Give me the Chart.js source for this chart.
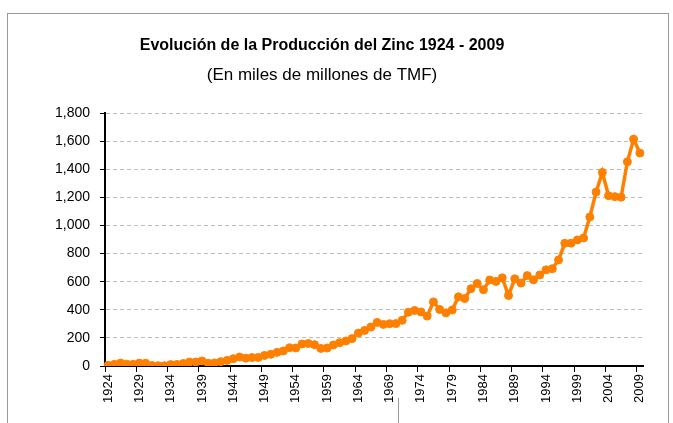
<!DOCTYPE html>
<html><head><meta charset="utf-8">
<script src="https://cdn.jsdelivr.net/npm/chart.js@4.4.0/dist/chart.umd.min.js"></script>
<style>
html,body{margin:0;padding:0;background:#fff;}
#wrap{position:relative;width:673px;height:423px;overflow:hidden;background:#fff;}
#frame{position:absolute;left:7px;top:13px;width:662px;height:440px;border:1px solid #9a9a9a;box-sizing:border-box;}
#mark{position:absolute;left:398px;top:398px;width:1px;height:25px;background:#9a9a9a;}
canvas{position:absolute;left:0;top:0;}
</style></head>
<body>
<div id="wrap"><div id="frame"></div><div id="mark"></div><canvas id="c" width="673" height="423"></canvas></div>
<script>
const years = ['1924','1925','1926','1927','1928','1929','1930','1931','1932','1933',
  '1934','1935','1936','1937','1938','1939','1940','1941','1942','1943',
  '1944','1945','1946','1947','1948','1949','1950','1951','1952','1953',
  '1954','1955','1956','1957','1958','1959','1960','1961','1962','1963',
  '1964','1965','1966','1967','1968','1969','1970','1971','1972','1973',
  '1974','1975','1976','1977','1978','1979','1980','1981','1982','1983',
  '1984','1985','1986','1987','1988','1989','1990','1991','1992','1993',
  '1994','1995','1996','1997','1998','1999','2000','2001','2002','2003',
  '2004','2005','2006','2007','2008','2009'];
const produccion = [5,12,21,13,12,21,20,4,2,2,
  10,11,18,28,28,36,20,22,31,40,
  52,64,56,60,61,75,83,97,107,130,
  128,157,160,152,125,128,150,166,178,195,
  234,253,277,310,296,301,302,325,383,395,
  385,355,456,402,378,398,492,480,550,587,
  543,612,602,627,502,620,590,643,613,648,
  684,692,755,873,874,897,911,1060,1238,1377,
  1212,1205,1201,1453,1614,1515];
const xTickLabels = ['1924','1929','1934','1939','1944','1949','1954','1959','1964','1969',
  '1974','1979','1984','1989','1994','1999','2004','2009'];
const yTickLabels = ['0','200','400','600','800','1,000','1,200','1,400','1,600','1,800'];
const titleText = 'Evolución de la Producción del Zinc 1924 - 2009';
const subtitleText = '(En miles de millones de TMF)';

const FONT = '"Liberation Sans", Arial, sans-serif';

const titlePlugin = {
  id: 'titles',
  afterDraw(chart) {
    const c = chart.ctx;
    c.save();
    c.fillStyle = '#000';
    c.textAlign = 'center';
    c.textBaseline = 'middle';
    c.font = 'bold 16px ' + FONT;
    c.fillText(titleText, 322, 46);
    c.font = '17px ' + FONT;
    c.fillText(subtitleText, 322, 75);
    c.restore();
  }
};

new Chart(document.getElementById('c'), {
  type: 'line',
  data: {
    labels: years,
    datasets: [{
      data: produccion,
      borderColor: '#FF8000',
      backgroundColor: '#FF8000',
      pointBackgroundColor: '#FF8000',
      pointBorderColor: '#FF8000',
      pointRadius: 4,
      pointBorderWidth: 1,
      borderWidth: 3.5,
      tension: 0
    }]
  },
  options: {
    responsive: false,
    animation: false,
    devicePixelRatio: 1,
    layout: { padding: { left: 0, top: 113, right: 30, bottom: 0 } },
    plugins: { legend: { display: false }, tooltip: { enabled: false }, title: { display: false } },
    scales: {
      x: {
        offset: true,
        grid: {
          offset: true,
          drawOnChartArea: false,
          drawTicks: true,
          tickLength: 6,
          tickWidth: 1,
          tickColor: (ctx) => (ctx.index !== undefined && ctx.index % 5 === 0) ? '#000' : 'rgba(0,0,0,0)'
        },
        border: { color: '#000', width: 2 },
        ticks: {
          autoSkip: false,
          minRotation: 90,
          maxRotation: 90,
          padding: 2,
          color: '#000',
          font: { family: FONT, size: 13 },
          callback: function (v, i) {
            const lab = years[i];
            return xTickLabels.includes(lab) ? lab : '';
          }
        },
        afterFit(s) { s.height = 57; s.paddingLeft = 0; s.paddingRight = 0; }
      },
      y: {
        min: 0,
        max: 1800,
        ticks: {
          stepSize: 200,
          padding: 10,
          color: '#000',
          font: { family: FONT, size: 14 },
          callback: function (v, i) { return yTickLabels[i]; }
        },
        grid: {
          color: (ctx) => (ctx.tick && ctx.tick.value === 0) ? 'rgba(0,0,0,0)' : '#bdbdbd',
          lineWidth: 1,
          tickColor: '#000',
          tickLength: 5
        },
        border: { color: '#000', width: 2, dash: [4, 3] },
        afterFit(s) { s.width = 105; s.paddingTop = 0; s.paddingBottom = 0; }
      }
    }
  },
  plugins: [titlePlugin]
});
</script>
</body></html>
